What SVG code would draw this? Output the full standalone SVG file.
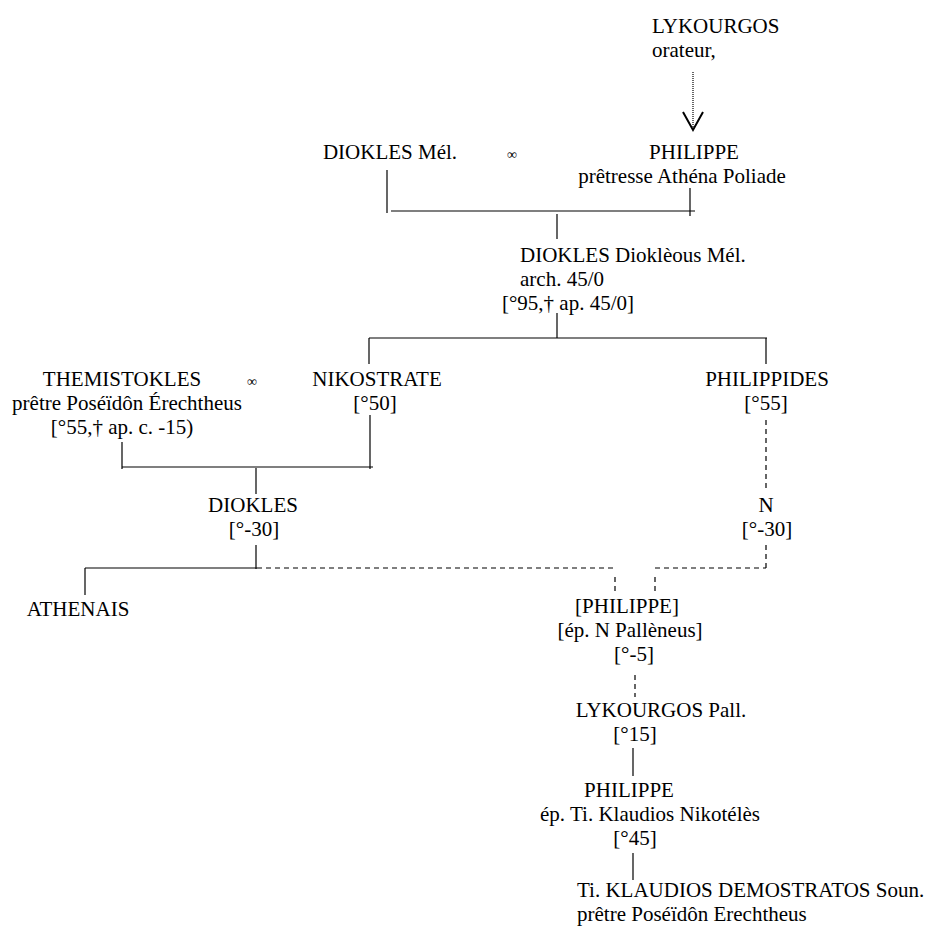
<svg xmlns="http://www.w3.org/2000/svg" width="930" height="927" viewBox="0 0 930 927">
<style>
text{font-family:'Liberation Serif','Tinos','DejaVu Serif',serif;font-size:21px;fill:#000}
.m{text-anchor:middle}
.inf{font-size:14px}
line{stroke:#000;stroke-width:1.2;fill:none}
.d{stroke-dasharray:5,4}
</style>
<rect width="930" height="927" fill="#fff"/>
<g id="connectors">
<line x1="693" y1="72" x2="693" y2="129" stroke-width="2" style="stroke-dasharray:1,1"/>
<polyline points="683,112 693,130 703,112" fill="none" stroke="#000" stroke-width="2"/>
<line x1="387" y1="170" x2="387" y2="213"/>
<line x1="690" y1="188" x2="690" y2="216"/>
<line x1="391" y1="211" x2="695" y2="211"/>
<line x1="557" y1="214" x2="557" y2="239"/>
<line x1="557" y1="313" x2="557" y2="338"/>
<line x1="369" y1="338" x2="767" y2="338"/>
<line x1="369" y1="338" x2="369" y2="364"/>
<line x1="766" y1="338" x2="766" y2="364"/>
<line x1="122" y1="442" x2="122" y2="469"/>
<line x1="370" y1="415" x2="370" y2="469"/>
<line x1="122" y1="467" x2="373" y2="467"/>
<line x1="256" y1="468" x2="256" y2="494"/>
<line class="d" x1="766" y1="420" x2="766" y2="492"/>
<line x1="256" y1="545" x2="256" y2="569"/>
<line x1="85" y1="568" x2="257" y2="568"/>
<line x1="85" y1="568" x2="85" y2="595"/>
<line class="d" x1="257" y1="568" x2="616" y2="568"/>
<line class="d" x1="655" y1="568" x2="766" y2="568"/>
<line class="d" x1="766" y1="545" x2="766" y2="568"/>
<line class="d" x1="615" y1="577" x2="615" y2="595"/>
<line class="d" x1="655" y1="577" x2="655" y2="595"/>
<line class="d" x1="635" y1="675" x2="635" y2="697"/>
<line x1="633" y1="748" x2="633" y2="776"/>
<line x1="633" y1="853" x2="633" y2="880"/>
</g>
<g id="lykourgos-orateur"><text x="652" y="33">LYKOURGOS</text><text x="652" y="57">orateur,</text></g>
<g id="diokles-mel"><text class="m" x="390" y="159">DIOKLES Mél.</text></g>
<g id="marriage1"><text class="m inf" x="512" y="159">∞</text></g>
<g id="philippe-pretresse"><text class="m" x="694" y="159">PHILIPPE</text><text class="m" x="682" y="183">prêtresse Athéna Poliade</text></g>
<g id="diokles-diokleous"><text x="520" y="262">DIOKLES Dioklèous Mél.</text><text x="520" y="286">arch. 45/0</text><text class="m" x="568" y="310">[°95,† ap. 45/0]</text></g>
<g id="themistokles"><text class="m" x="122" y="386">THEMISTOKLES</text><text class="m" x="127" y="410">prêtre Poséïdôn Érechtheus</text><text class="m" x="122" y="434">[°55,† ap. c. -15)</text></g>
<g id="marriage2"><text class="m inf" x="252" y="386">∞</text></g>
<g id="nikostrate"><text class="m" x="377" y="386">NIKOSTRATE</text><text class="m" x="375" y="410">[°50]</text></g>
<g id="philippides"><text class="m" x="767" y="386">PHILIPPIDES</text><text class="m" x="766" y="410">[°55]</text></g>
<g id="diokles"><text class="m" x="253" y="512">DIOKLES</text><text class="m" x="254" y="536">[°-30]</text></g>
<g id="n"><text class="m" x="766" y="512">N</text><text class="m" x="767" y="536">[°-30]</text></g>
<g id="athenais"><text class="m" x="78" y="616">ATHENAIS</text></g>
<g id="philippe-bracket"><text class="m" x="627" y="613">[PHILIPPE]</text><text class="m" x="630" y="637">[ép. N Pallèneus]</text><text class="m" x="634" y="661">[°-5]</text></g>
<g id="lykourgos-pall"><text class="m" x="661" y="717">LYKOURGOS Pall.</text><text class="m" x="635" y="741">[°15]</text></g>
<g id="philippe-ep"><text class="m" x="629" y="797">PHILIPPE</text><text class="m" x="650" y="821">ép. Ti. Klaudios Nikotélès</text><text class="m" x="635" y="845">[°45]</text></g>
<g id="klaudios"><text x="577" y="897">Ti. KLAUDIOS DEMOSTRATOS Soun.</text><text x="577" y="921">prêtre Poséïdôn Erechtheus</text></g>
</svg>
